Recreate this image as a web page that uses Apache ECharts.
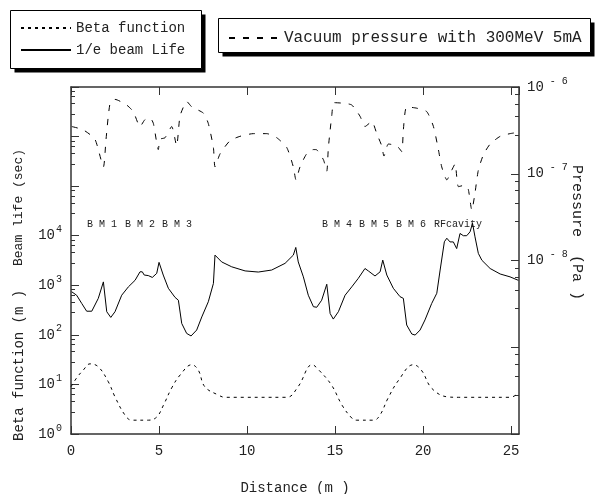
<!DOCTYPE html>
<html>
<head>
<meta charset="utf-8">
<script src="https://cdn.jsdelivr.net/npm/echarts@6/dist/echarts.min.js"></script>
<style>
  html, body { margin: 0; padding: 0; background: #fff; }
  #chartContainer { width: 599px; height: 494px; }
</style>
</head>
<body>
<div id="chartContainer"></div>
<script>
// values
var betaX = [0, 0.35, 0.7, 1.08, 1.55, 2.12, 2.5, 3.07, 3.45, 4.4, 4.87, 5.25, 5.72, 6.2, 6.86, 7.23, 7.6, 8.37, 8.75,
  12.25, 12.9, 13.7, 14.05, 14.8, 15.4, 15.95, 16.2, 17.2, 17.55, 18.0, 18.6, 19.45, 19.9, 20.5, 21.4, 22.0, 24.95, 25.45];
var betaY = [9, 14, 19.5, 26, 22.7, 11.3, 5.6, 2.4, 1.9, 1.9, 2.2, 3.8, 8.5, 15.5, 25, 19.5, 9, 6.1, 5.5,
  5.5, 9, 25, 20, 9.7, 3.8, 2.1, 1.9, 1.9, 2.4, 5.2, 12, 25, 19.5, 8.3, 5.6, 5.5, 5.5, 6.8];

var lifeX = [0.04, 0.32, 0.61, 0.89, 1.18, 1.55, 1.84, 2.03, 2.26, 2.5, 2.88, 3.26, 3.64, 3.92, 4.05, 4.16, 4.39, 4.62, 4.87, 5.0,
  5.24, 5.53, 5.91, 6.1, 6.29, 6.57, 6.82, 7.14, 7.43, 7.8, 8.09, 8.18, 8.56, 9.13, 9.89, 10.64, 11.4, 12.16, 12.63, 12.77,
  12.91, 13.2, 13.48, 13.77, 13.96, 14.24, 14.53, 14.72, 14.9, 15.19, 15.57, 15.95, 16.32, 16.7, 16.89, 17.27, 17.56, 17.71,
  17.94, 18.31, 18.69, 18.88, 19.07, 19.36, 19.55, 19.83, 20.11, 20.49, 20.78, 20.97, 21.21, 21.35, 21.53, 21.72, 21.91, 22.1,
  22.29, 22.48, 22.67, 22.81, 22.95, 23.14, 23.34, 23.81, 24.38, 24.94, 25.41];
var lifeY = [740, 630, 430, 300, 300, 545, 1170, 293, 225, 293, 630, 930, 1260, 1870, 1870, 1610, 1570, 1440, 1740, 2900,
  1610, 870, 570, 500, 170, 107, 95, 125, 230, 465, 1090, 4060, 2960, 2360, 1950, 1850, 2030, 2770, 4060, 5800,
  2960, 1480, 630, 370, 360, 500, 1050, 270, 208, 293, 630, 930, 1380, 2180, 1950, 1540, 1870, 3220,
  1610, 870, 590, 545, 158, 104, 99, 125, 200, 430, 690, 2030, 7550, 8900, 7500, 7500, 5500, 11100,
  10000, 10000, 12000, 17800, 9500, 4400, 3200, 2180, 1690, 1480, 1260];

var presX = [0.05, 0.7, 1.36, 1.84, 1.99, 2.22, 2.5, 3.16, 3.54, 3.92, 4.2, 4.49, 4.68, 4.96, 5.06, 5.34, 5.72, 6.0, 6.19,
  6.48, 6.57, 6.86, 7.52, 7.8, 8.09, 8.18, 8.47, 9.03, 9.6, 10.36, 11.12, 11.69, 12.26, 12.63, 12.78, 13.01, 13.39, 13.77,
  13.92, 14.34, 14.53, 14.62, 14.81, 14.94, 15.47, 15.95, 16.42, 16.7, 17.09, 17.37, 17.65, 17.78, 18.03, 18.51, 18.79,
  18.88, 19.07, 19.64, 20.21, 20.59, 20.87, 21.06, 21.35, 21.63, 21.82, 22.01, 22.39, 22.57, 22.77, 22.95, 23.14, 23.43,
  23.81, 24.38, 24.94, 25.4];
var presY = [3.5e-7, 3.2e-7, 2.5e-7, 1.2e-7, 2.5e-7, 6.5e-7, 7.2e-7, 6.2e-7, 5.2e-7, 3.5e-7, 4.2e-7, 4.4e-7, 3.8e-7, 1.9e-7, 2.5e-7, 2.6e-7, 3.5e-7, 2.1e-7, 4.6e-7,
  6.5e-7, 6.8e-7, 5.9e-7, 5e-7, 3.8e-7, 2.0e-7, 1.2e-7, 1.7e-7, 2.4e-7, 2.7e-7, 2.9e-7, 2.9e-7, 2.6e-7, 2.0e-7, 1.2e-7, 8.5e-8, 1.2e-7, 1.7e-7, 1.9e-7,
  1.9e-7, 1.45e-7, 1.07e-7, 2.0e-7, 4.6e-7, 6.6e-7, 6.5e-7, 6.2e-7, 4.6e-7, 3.5e-7, 4.0e-7, 2.9e-7, 2.1e-7, 1.6e-7, 2.2e-7, 2.1e-7, 1.8e-7,
  3.2e-7, 5.9e-7, 5.7e-7, 5.2e-7, 3.5e-7, 1.9e-7, 1.2e-7, 8.5e-8, 1.1e-7, 1.3e-7, 7.1e-8, 7.4e-8, 6.6e-8, 3.8e-8, 6e-8, 1.1e-7, 1.66e-7,
  2.2e-7, 2.7e-7, 2.9e-7, 3.0e-7];

var magnetLabels = ['B M 1', 'B M 2', 'B M 3', 'B M 4', 'B M 5', 'B M 6', 'RFcavity'];
var magnetLabelX = [87, 125, 162, 322, 359, 396, 434];

function pairs(xs, ys) {
  return xs.map(function (x, i) { return [x, ys[i]]; });
}

var FONT = '"Liberation Mono", "DejaVu Sans Mono", monospace';
var ink = '#222';

var myChart = echarts.init(document.getElementById('chartContainer'));

function tickStyle() {
  return {
    axisLine: { show: true, onZero: false, lineStyle: { color: '#333', width: 1.5 } },
    axisTick: { show: true, inside: true, length: 8, lineStyle: { color: '#333' } },
    splitLine: { show: false }
  };
}

// boxes behind the two legends, with a hard drop shadow
function legendBox(x, y, w, h) {
  return [
    { type: 'rect', z: 1, shape: { x: x + 4, y: y + 4, width: w, height: h }, style: { fill: '#000' } },
    { type: 'rect', z: 2, shape: { x: x, y: y, width: w, height: h }, style: { fill: '#fff', stroke: '#000', lineWidth: 1 } }
  ];
}

var graphics = [].concat(
  legendBox(10.5, 10.5, 191, 58),
  legendBox(218.5, 18.5, 372, 34),
  [
    { type: 'text', x: 12, y: 266, rotation: Math.PI / 2,
      style: { text: 'Beam life (sec)', font: '13px ' + FONT, fill: ink, verticalAlign: 'top' } },
    { type: 'text', x: 12, y: 441, rotation: Math.PI / 2,
      style: { text: 'Beta function (m )', font: '14px ' + FONT, fill: ink, verticalAlign: 'top' } },
    { type: 'text', x: 584, y: 165, rotation: -Math.PI / 2,
      style: { text: 'Pressure  (Pa )', font: '15px ' + FONT, fill: ink, verticalAlign: 'top' } }
  ]
);

magnetLabels.forEach(function (t, i) {
  graphics.push({ type: 'text', x: magnetLabelX[i], y: 219,
    style: { text: t, font: '10px ' + FONT, fill: ink } });
});

var legendCommon = {
  itemWidth: 50, itemHeight: 14,
  backgroundColor: 'transparent', borderWidth: 0,
  itemStyle: { opacity: 0 },
  selectedMode: false,
  z: 10
};

var options = {
  animation: false,
  backgroundColor: '#fff',
  grid: { left: 71, right: 80, top: 87, bottom: 60, containLabel: false, outerBoundsMode: 'none' },
  legend: [Object.assign({}, legendCommon, {
    orient: 'vertical',
    left: 10, top: 10,
    data: ['Beta function', '1/e beam Life'],
    itemGap: 8,
    padding: [11, 10, 11, 10],
    textStyle: { fontFamily: FONT, fontSize: 14, color: ink }
  }), Object.assign({}, legendCommon, {
    left: 218, top: 18,
    data: ['Vacuum pressure with 300MeV 5mA'],
    padding: [12, 10, 8, 10],
    textStyle: { fontFamily: FONT, fontSize: 16, color: ink }
  })],
  xAxis: [Object.assign({}, tickStyle(), {
    type: 'value', min: 0, max: 25.45, interval: 5,
    name: 'Distance (m )', nameLocation: 'middle', nameGap: 47,
    nameTextStyle: { fontFamily: FONT, fontSize: 14, color: ink },
    axisLabel: { fontFamily: FONT, fontSize: 14, color: ink, margin: 10, showMaxLabel: false }
  }), Object.assign({}, tickStyle(), {
    type: 'value', min: 0, max: 25.45, interval: 5, position: 'top',
    axisLabel: { show: false }
  })],
  yAxis: [Object.assign({}, tickStyle(), {
    type: 'log', logBase: 10, min: 1, max: 1e7, interval: 1,
    minorTick: { show: true, splitNumber: 5, length: 4, lineStyle: { color: '#333' } },
    axisLabel: {
      fontFamily: FONT, fontSize: 14, color: ink, lineHeight: 22, margin: 9,
      formatter: function (v) {
        var e = Math.round(Math.log10(v));
        return e > 4 ? '' : '10{sup|' + e + '}';
      },
      rich: { sup: { fontFamily: FONT, fontSize: 10, color: ink, verticalAlign: 'top', lineHeight: 10, padding: [0, 0, 0, 1] } }
    }
  }), Object.assign({}, tickStyle(), {
    type: 'log', logBase: 10, min: 1e-10, max: 1e-6, interval: 1, position: 'right',
    minorTick: { show: true, splitNumber: 5, length: 4, lineStyle: { color: '#333' } },
    axisLabel: {
      fontFamily: FONT, fontSize: 14, color: ink, lineHeight: 22, margin: 8,
      formatter: function (v) {
        var e = Math.round(Math.log10(v));
        return e < -8 ? '' : '10{sup| - ' + (-e) + '}';
      },
      rich: { sup: { fontFamily: FONT, fontSize: 10, color: ink, verticalAlign: 'top', lineHeight: 10 } }
    }
  })],
  series: [{
    name: 'Beta function',
    type: 'line',
    yAxisIndex: 0,
    data: pairs(betaX, betaY),
    smooth: 0.4,
    symbol: 'none',
    lineStyle: { color: '#000', width: 1, type: [3, 4] },
    itemStyle: { color: '#000' }
  }, {
    name: '1/e beam Life',
    type: 'line',
    yAxisIndex: 0,
    data: pairs(lifeX, lifeY),
    symbol: 'none',
    lineStyle: { color: '#000', width: 1 },
    itemStyle: { color: '#000' }
  }, {
    name: 'Vacuum pressure with 300MeV 5mA',
    type: 'line',
    yAxisIndex: 1,
    data: pairs(presX, presY),
    smooth: 0.2,
    symbol: 'none',
    lineStyle: { color: '#000', width: 1, type: [6, 8] },
    itemStyle: { color: '#000' }
  }],
  graphic: graphics
};

myChart.setOption(options);
</script>
</body>
</html>
